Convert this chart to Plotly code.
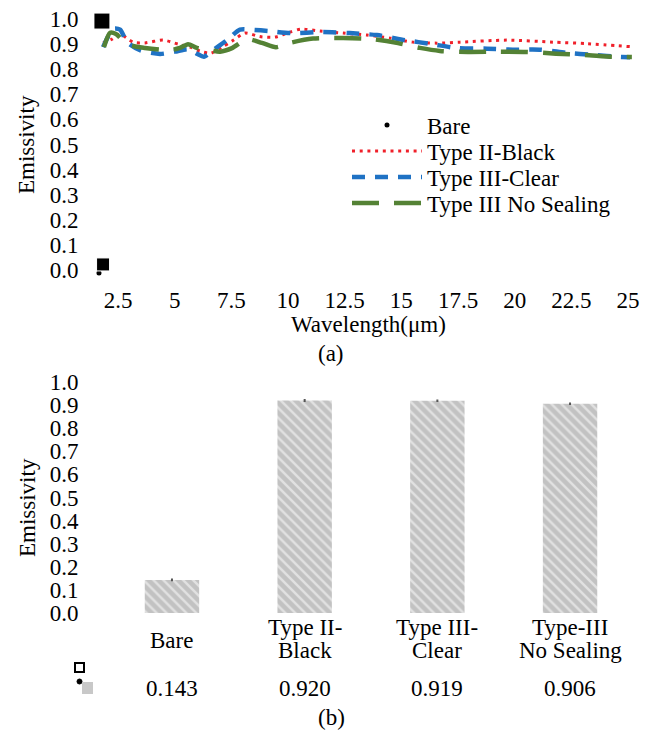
import plotly.graph_objects as go

W, H = 662, 736
OX, OY = 8, 8  # page body margin offset
FONT = "Liberation Serif"
FS = 23

# ---------------- (a) spectral emissivity ----------------
wl_black = [1.84, 2.24, 2.59, 3.16, 3.69, 4.49, 5.15, 5.68, 6.12, 6.60, 7.09, 7.53, 8.10, 8.76, 9.43,
            10.09, 10.57, 11.41, 12.43, 13.48, 14.50, 15.51, 16.57, 17.59, 19.66, 21.69, 23.19, 25.09]
em_black = [0.905, 0.920, 0.940, 0.908, 0.905, 0.916, 0.900, 0.888, 0.872, 0.864, 0.888, 0.912, 0.944, 0.930, 0.928,
            0.948, 0.960, 0.952, 0.944, 0.936, 0.924, 0.908, 0.904, 0.908, 0.916, 0.908, 0.902, 0.890]

wl_clear = [1.84, 2.06, 2.32, 2.59, 2.90, 3.47, 4.35, 5.01, 5.59, 5.98, 6.29, 6.69, 7.31, 7.88, 8.54, 9.20,
            10.09, 11.54, 12.73, 13.92, 15.16, 16.35, 17.50, 18.78, 19.92, 21.11, 22.31, 23.45, 24.73, 25.09]
em_clear = [0.888, 0.930, 0.962, 0.958, 0.908, 0.876, 0.861, 0.870, 0.880, 0.862, 0.850, 0.876, 0.916, 0.958, 0.956, 0.952,
            0.944, 0.948, 0.944, 0.936, 0.916, 0.900, 0.884, 0.882, 0.878, 0.878, 0.865, 0.857, 0.849, 0.848]

wl_nos = [1.88, 2.15, 2.41, 2.90, 3.69, 4.79, 5.23, 5.59, 5.98, 6.56, 7.00, 7.53, 8.19, 8.85, 9.47,
          10.09, 11.10, 12.43, 13.70, 14.85, 15.82, 16.70, 17.94, 19.35, 20.54, 21.82, 23.10, 24.29, 25.17]
em_nos = [0.888, 0.945, 0.940, 0.900, 0.885, 0.876, 0.885, 0.900, 0.885, 0.876, 0.870, 0.884, 0.920, 0.905, 0.888,
          0.905, 0.922, 0.924, 0.920, 0.904, 0.885, 0.873, 0.869, 0.870, 0.869, 0.862, 0.857, 0.850, 0.849]

bare_wl = [1.66]
bare_em = [-0.012]
bare_blk_wl = [1.79, 1.84]
bare_blk_em = [0.992, 0.022]

x_ticks = [2.5, 5, 7.5, 10, 12.5, 15, 17.5, 20, 22.5, 25]
y_ticks = [0.0, 0.1, 0.2, 0.3, 0.4, 0.5, 0.6, 0.7, 0.8, 0.9, 1.0]

# ---------------- (b) average emissivity ----------------
samples = ["Bare", "Type II-Black", "Type III-Clear", "Type-III No Sealing"]
sample_labels = [["Bare"], ["Type II-", "Black"], ["Type III-", "Clear"], ["Type-III", "No Sealing"]]
avg_em = [0.143, 0.920, 0.919, 0.906]
avg_err = [0.006, 0.006, 0.005, 0.005]


def fx(p):
    return (p - OX) / W


def fy(p):
    return 1 - (p - OY) / H


fig = go.Figure()

fig.add_trace(go.Scatter(x=bare_wl, y=bare_em, mode="markers", name="Bare",
                         marker=dict(color="black", size=5, symbol="circle", opacity=1),
                         xaxis="x", yaxis="y", legendgroup="bare", legend="legend"))
fig.add_trace(go.Scatter(x=bare_blk_wl, y=bare_blk_em, mode="markers", name="Bare",
                         marker=dict(color="black", size=[16, 13], symbol="square", opacity=1),
                         xaxis="x", yaxis="y", legendgroup="bare", showlegend=False))
fig.add_trace(go.Scatter(x=wl_black, y=em_black, mode="lines", name="Type II-Black", legend="legend2",
                         line=dict(color="#F0202A", width=3, dash="3px,4.7px", shape="spline", smoothing=0.7),
                         xaxis="x", yaxis="y"))
fig.add_trace(go.Scatter(x=wl_clear, y=em_clear, mode="lines", name="Type III-Clear", legend="legend3",
                         line=dict(color="#1F72C4", width=4.5, dash="13px,10px", shape="spline", smoothing=0.7),
                         xaxis="x", yaxis="y"))
fig.add_trace(go.Scatter(x=wl_nos, y=em_nos, mode="lines", name="Type III No Sealing", legend="legend4",
                         line=dict(color="#548235", width=4.5, dash="27px,15px", shape="spline", smoothing=0.7),
                         xaxis="x", yaxis="y"))

fig.add_trace(go.Bar(x=samples, y=avg_em, xaxis="x2", yaxis="y2", showlegend=False, width=0.41,
                     marker=dict(color="#C2C2C2", line=dict(width=0),
                                 pattern=dict(shape="\\", fgcolor="#FFFFFF", bgcolor="#C2C2C2",
                                              size=7, solidity=0.35)),
                     error_y=dict(type="data", array=avg_err, color="#555555", thickness=2, width=0)))
fig.add_trace(go.Scatter(x=[-0.509, -0.50], y=[0.991, 0.0], mode="markers", showlegend=False,
                         xaxis="x2", yaxis="y2",
                         marker=dict(color="black", size=[15, 5], symbol="square", opacity=1)))

tickfont = dict(family=FONT, size=FS, color="black")
legfont = dict(family=FONT, size=FS, color="black")


def leg(row_y):
    return dict(x=fx(347), y=fy(row_y), xanchor="left", yanchor="middle", bgcolor="rgba(0,0,0,0)",
                font=legfont, itemwidth=70)


fig.update_layout(
    width=W, height=H,
    margin=dict(l=0, r=0, t=0, b=0),
    paper_bgcolor="white", plot_bgcolor="white",
    font=dict(family=FONT, size=FS, color="black"),
    xaxis=dict(domain=[fx(94), fx(633)], range=[1.44, 25.22], tickvals=x_ticks,
               showgrid=False, zeroline=False, showline=False, ticks="outside", ticklen=1,
               tickcolor="rgba(0,0,0,0)", tickfont=tickfont, automargin=False, ticklabeloverflow="allow"),
    yaxis=dict(domain=[fy(278), fy(8)], range=[-0.032, 1.044], tickvals=y_ticks, tickformat=".1f",
               showgrid=False, zeroline=False, showline=False, ticks="outside", ticklen=10,
               tickcolor="rgba(0,0,0,0)", tickfont=tickfont, automargin=False, ticklabeloverflow="allow"),
    xaxis2=dict(domain=[fx(97), fx(636)], range=[-0.565, 3.497], showticklabels=False,
                showgrid=False, zeroline=False, showline=False, automargin=False, anchor="y2"),
    yaxis2=dict(domain=[fy(615.3), fy(375.1)], range=[-0.01, 1.03], tickvals=y_ticks, tickformat=".1f",
                showgrid=False, zeroline=False, showline=False, ticks="outside", ticklen=13,
                tickcolor="rgba(0,0,0,0)", tickfont=tickfont, automargin=False, anchor="x2",
                ticklabeloverflow="allow"),
    legend=leg(125), legend2=leg(151), legend3=leg(177), legend4=leg(203),
    showlegend=True,
)

ann = [
    dict(text="Wavelength(μm)", x=fx(368), y=fy(325)),
    dict(text="(a)", x=fx(331), y=fy(354)),
    dict(text="(b)", x=fx(331), y=fy(717)),
    dict(text="Emissivity", x=fx(27), y=fy(145), textangle=-90),
    dict(text="Emissivity", x=fx(27), y=fy(508), textangle=-90),
]
for a in ann:
    fig.add_annotation(xref="paper", yref="paper", showarrow=False, xanchor="center", yanchor="middle",
                       font=dict(family=FONT, size=FS, color="black"), **a)

for s, lines, v in zip(samples, sample_labels, avg_em):
    ys = [640] if len(lines) == 1 else [627, 650]
    for line_text, yy in zip(lines, ys):
        fig.add_annotation(x=s, xref="x2", y=fy(yy), yref="paper", text=line_text, showarrow=False,
                           xanchor="center", yanchor="middle", align="center",
                           font=dict(family=FONT, size=FS, color="black"))
    fig.add_annotation(x=s, xref="x2", y=fy(688), yref="paper", text=f"{v:.3f}", showarrow=False,
                       xanchor="center", yanchor="middle",
                       font=dict(family=FONT, size=FS, color="black"))

# data-table legend keys
fig.add_shape(type="rect", xref="paper", yref="paper", x0=fx(75), x1=fx(84), y0=fy(672), y1=fy(663),
              line=dict(color="black", width=2), fillcolor="white")
fig.add_shape(type="circle", xref="paper", yref="paper", x0=fx(77), x1=fx(82), y0=fy(684), y1=fy(679),
              line=dict(color="black", width=1), fillcolor="black")
fig.add_shape(type="rect", xref="paper", yref="paper", x0=fx(82), x1=fx(93), y0=fy(694), y1=fy(682),
              line=dict(width=0), fillcolor="#C8C8C8")

fig.write_html("out.html")
